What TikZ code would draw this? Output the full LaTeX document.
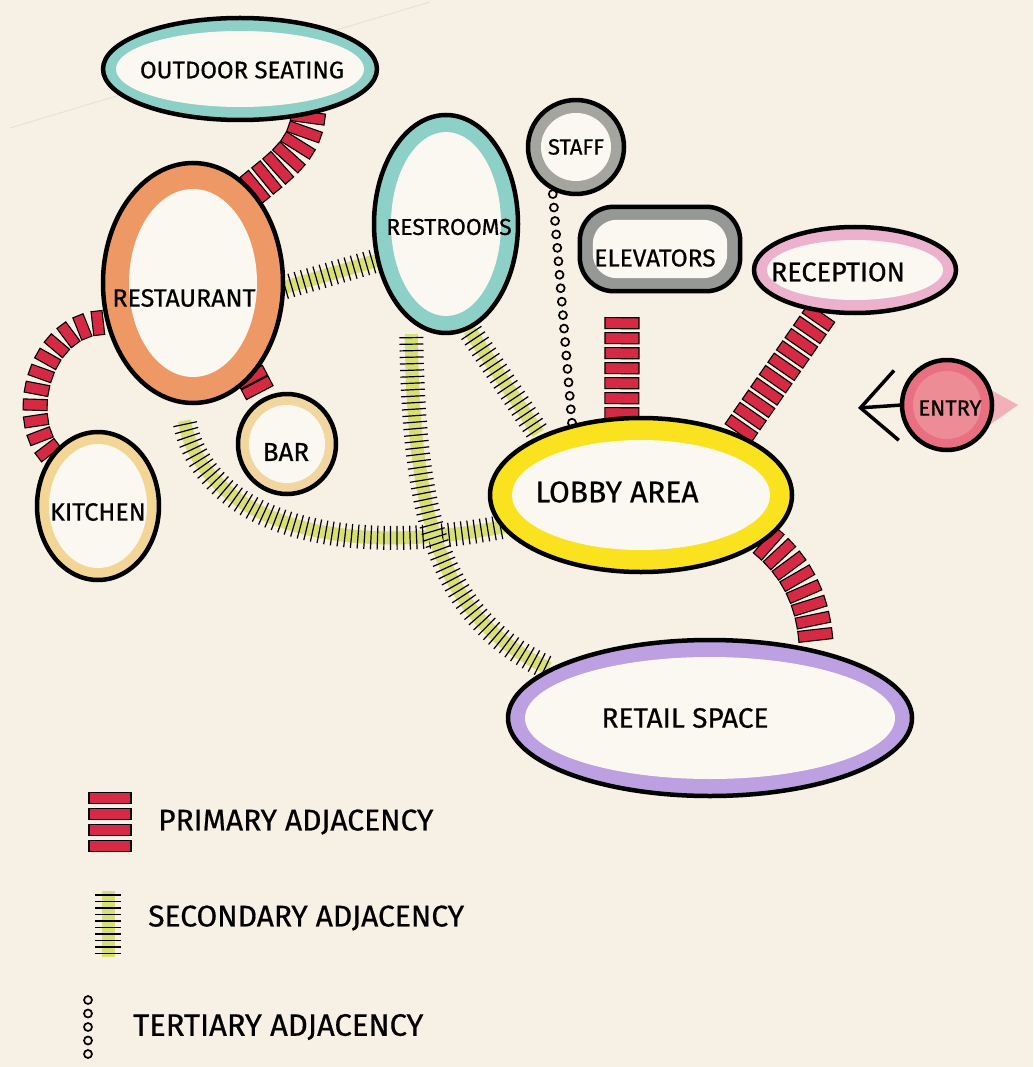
\documentclass[tikz,border=0pt]{standalone}
\usepackage{fontspec}
\setmainfont{Fira Sans}[FakeBold=0.6]
\usetikzlibrary{decorations.markings,arrows.meta,shapes.geometric,calc}
\definecolor{paper}{RGB}{246,240,229}
\definecolor{inner}{RGB}{251,248,241}
\definecolor{pencil}{RGB}{230,226,218}
\definecolor{teal}{RGB}{140,208,200}
\definecolor{orange}{RGB}{238,152,102}
\definecolor{staffgrey}{RGB}{165,165,160}
\definecolor{elevgrey}{RGB}{150,152,150}
\definecolor{pink}{RGB}{236,178,205}
\definecolor{entryred}{RGB}{232,112,128}
\definecolor{entrylight}{RGB}{238,140,150}
\definecolor{barfill}{RGB}{241,214,160}
\definecolor{kitchenfill}{RGB}{243,213,150}
\definecolor{lobbyyel}{RGB}{250,226,30}
\definecolor{retailpur}{RGB}{188,160,225}
\definecolor{adjred}{RGB}{214,42,68}
\definecolor{secband}{RGB}{214,224,118}
\pgfdeclarelayer{paperlayer}
\pgfdeclarelayer{links}
\pgfsetlayers{paperlayer,links,main}
\tikzset{
  ladderw/.store in=\ladderw, ladderw=16,
  ladderstep/.store in=\ladderstep, ladderstep=15pt,
  hatchw/.store in=\hatchw, hatchw=12,
  roomshape/.style={ellipse, inner sep=0pt, draw=none},
  outline/.style={draw=black, line width=4.5pt, line join=round},
  roomtext/.style={font=\fontsize{24}{26}\selectfont, text=black, inner sep=0pt},
  legendtext/.style={font=\fontsize{30}{32}\selectfont, text=black, anchor=west, inner sep=0pt},
  primary/.style 2 args={postaction={decorate, decoration={markings,
      mark=between positions #1 and #2 step {\ladderstep} with
      {\draw[black, line width=1.1pt, fill=adjred] (-5.5,-\ladderw) rectangle (5.5,\ladderw);}}}},
  secondary/.style 2 args={postaction={decorate, decoration={markings,
      mark=between positions #1 and #2 step {6.5pt} with
      {\fill[secband] (-3.6,-6.5) rectangle (3.6,6.5);
       \draw[black, line width=1.2pt] (0,-\hatchw) -- (0,\hatchw);}}}},
  tertiary/.style 2 args={postaction={decorate, decoration={markings,
      mark=between positions #1 and #2 step {13.5pt} with
      {\draw[black, line width=1.7pt, fill=paper] (0,0) circle [radius=4pt];}}}},
}
% name, x, y, rx, ry, ring colour, ring width, text, label shift
\newcommand\roomat[9]{%
  \node[roomshape, fill=#6, minimum width={2*#4*1pt}, minimum height={2*#5*1pt}] (#1) at (#2,#3) {};
  \fill[inner] (#2,#3) ellipse [x radius=#4-#7, y radius=#5-#7];
  \draw[outline] (#2,#3) ellipse [x radius=#4, y radius=#5];
  \node[roomtext] (#1-label) at ([shift={#9}]#2,#3) {#8};
}
\begin{document}
\begin{tikzpicture}[x=1pt,y=-1pt]
\begin{pgfonlayer}{paperlayer}
  \fill[paper] (0,0) rectangle (1033,1067);
  \draw[pencil, line width=1pt] (10,128) -- (430,2);
\end{pgfonlayer}
\useasboundingbox (0,0) rectangle (1033,1067);

% smear behind entry
\fill[entryred!55] (982,385) -- (1018,405) -- (985,428) -- cycle;

\roomat{outdoor}{240}{69}{137}{51}{teal}{13}{OUTDOOR SEATING}{(2,1)}
\roomat{rest}{193}{283}{90}{120}{orange}{26}{{\fontsize{25}{27}\selectfont RESTAURANT}}{(-9,15)}
\roomat{restroom}{446}{224}{72}{109}{teal}{17}{{\fontsize{23}{25}\selectfont RESTROOMS}}{(3,3)}
\roomat{staff}{576}{147}{48}{47}{staffgrey}{13}{{\fontsize{22}{24}\selectfont STAFF}}{(0,0)}
\roomat{recep}{855}{270}{101}{43}{pink}{13}{{\fontsize{27}{29}\selectfont RECEPTION}}{(-17,2)}
\roomat{bar}{287}{444}{49}{50}{barfill}{11}{{\fontsize{26}{28}\selectfont BAR}}{(-1,8)}
\roomat{kitchen}{98}{506}{61}{74}{kitchenfill}{12}{{\fontsize{25}{27}\selectfont KITCHEN}}{(0,6)}
\roomat{lobby}{641}{495}{151}{77}{lobbyyel}{22}{{\fontsize{30}{32}\selectfont LOBBY AREA}}{(-24,-3)}
\roomat{retail}{710}{718}{202}{78}{retailpur}{17}{{\fontsize{28}{30}\selectfont RETAIL SPACE}}{(-25,0)}

% elevators (rounded box)
\node[rectangle, rounded corners=34pt, fill=elevgrey, minimum width=160pt, minimum height=84pt, inner sep=0pt] (elev) at (660,249) {};
\fill[inner, rounded corners=24pt] ($(elev.south west)+(13,-13)$) rectangle ($(elev.north east)+(-13,13)$);
\draw[outline, rounded corners=34pt] (elev.south west) rectangle (elev.north east);
\node[roomtext, font=\fontsize{24.5}{26}\selectfont] (elev-label) at (655,258) {ELEVATORS};

% entry
\node[roomshape, fill=entryred, minimum width=90pt, minimum height=90pt] (entry) at (947,405) {};
\fill[entrylight] (947,405) ellipse [x radius=34, y radius=34];
\draw[outline] (947,405) ellipse [x radius=45, y radius=45];
\node[roomtext, font=\fontsize{22}{24}\selectfont] (entry-label) at (950,408) {ENTRY};
\coordinate (entrytip) at (858,408);
\draw[line width=3.5pt, -{Straight Barb[length=36pt,width=70pt,line width=3.5pt]}] (entry.west) -- (entrytip);

\begin{pgfonlayer}{links}
  \path[primary={4pt}{-2pt}, ladderw=17] (outdoor.-33) to[out=-95,in=40] (rest.58);
  \path[primary={10pt}{-6pt}, ladderw=12, ladderstep=16pt] (rest.205) .. controls (40,320) and (15,420) .. (kitchen.132);
  \path[primary={2pt}{-2pt}, ladderw=15, ladderstep=12pt] (rest.-58) -- (bar.118);
  \path[secondary={2pt}{-2pt}] (rest.-3) -- (restroom.208);
  \path[secondary={22pt}{-2pt}] (rest.-95) .. controls (185,500) and (300,565) .. (lobby.193);
  \path[secondary={6pt}{-2pt}] (restroom.-78) -- (lobby.150);
  \path[secondary={18pt}{-2pt}] (restroom.-110) .. controls (412,520) and (440,620) .. (retail.163);
  \path[tertiary={6pt}{-2pt}] (staff.-120) -- (lobby.135);
  \path[primary={32pt}{-2pt}, ladderw=17] (elev.-132) -- (lobby.104);
  \path[primary={8pt}{-2pt}] (recep.-128) -- (lobby.32);
  \path[primary={6pt}{-2pt}, ladderw=17] (lobby.-20) .. controls (795,565) and (815,600) .. (retail.32);
\end{pgfonlayer}

% legend
\coordinate (lgp1) at (110,792);
\coordinate (lgp2) at (110,857);
\path[primary={6pt}{-6pt}, ladderw=21, ladderstep=16pt] (lgp1) -- (lgp2);
\node[legendtext] (lgpt) at (158,822) {PRIMARY ADJACENCY};
\coordinate (lgs1) at (108,893);
\coordinate (lgs2) at (108,957);
\path[secondary={2pt}{-2pt}, hatchw=13] (lgs1) -- (lgs2);
\node[legendtext] (lgst) at (148,918) {SECONDARY ADJACENCY};
\coordinate (lgt1) at (88,1000);
\coordinate (lgt2) at (88,1063);
\path[tertiary={0pt}{-1pt}] (lgt1) -- (lgt2);
\node[legendtext, font=\fontsize{31}{33}\selectfont] (lgtt) at (133,1027) {TERTIARY ADJACENCY};
\end{tikzpicture}
\end{document}
